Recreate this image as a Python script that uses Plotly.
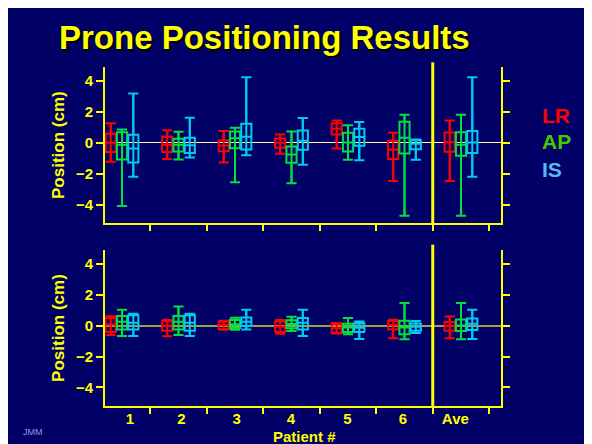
import plotly.graph_objects as go

categories = ["1", "2", "3", "4", "5", "6", "Ave"]
series = ["LR", "AP", "IS"]
y_ticks = [-4, -2, 0, 2, 4]

# Top panel
top_LR_high = [1.27, 0.82, 0.76, 0.54, 1.45, 0.65, 1.45]
top_LR_q3 = [0.58, 0.39, 0.17, 0.28, 1.27, 0.13, 0.67]
top_LR_med = [0.0, -0.13, -0.17, 0.0, 0.91, -0.45, 0.04]
top_LR_q1 = [-0.6, -0.6, -0.54, -0.32, 0.54, -1.04, -0.58]
top_LR_low = [-1.23, -1.04, -1.27, -0.71, -0.37, -2.46, -2.46]

top_AP_high = [0.86, 0.71, 0.97, 0.73, 1.14, 1.81, 1.81]
top_AP_q3 = [0.69, 0.26, 0.73, -0.24, 0.65, 1.36, 0.69]
top_AP_med = [-0.13, -0.13, 0.3, -0.76, 0.02, 0.32, -0.13]
top_AP_q1 = [-1.08, -0.56, -0.35, -1.29, -0.56, -0.69, -0.84]
top_AP_low = [-4.08, -1.08, -2.55, -2.61, -1.1, -4.72, -4.72]

top_IS_high = [3.19, 1.62, 4.23, 1.6, 1.34, 0.22, 4.23]
top_IS_q3 = [0.52, 0.32, 1.23, 0.8, 0.91, 0.17, 0.76]
top_IS_med = [-0.37, -0.15, 0.39, 0.13, 0.37, -0.06, 0.02]
top_IS_q1 = [-1.27, -0.65, -0.43, -0.45, -0.19, -0.41, -0.65]
top_IS_low = [-2.2, -0.95, -0.8, -1.42, -1.12, -1.1, -2.2]

# Bottom panel
bot_LR_high = [0.62, 0.37, 0.32, 0.37, 0.17, 0.39, 0.6]
bot_LR_q3 = [0.5, 0.3, 0.26, 0.28, 0.09, 0.3, 0.24]
bot_LR_med = [0.08, -0.02, 0.04, -0.06, -0.17, 0.04, -0.02]
bot_LR_q1 = [-0.4, -0.32, -0.22, -0.39, -0.45, -0.24, -0.32]
bot_LR_low = [-0.6, -0.69, -0.26, -0.52, -0.5, -0.82, -0.82]

bot_AP_high = [1.04, 1.25, 0.52, 0.58, 0.5, 1.47, 1.47]
bot_AP_q3 = [0.63, 0.63, 0.37, 0.35, 0.13, 0.32, 0.41]
bot_AP_med = [0.26, 0.26, 0.09, 0.11, -0.11, -0.11, 0.02]
bot_AP_q1 = [-0.24, -0.24, -0.15, -0.17, -0.41, -0.56, -0.35]
bot_AP_low = [-0.67, -0.6, -0.26, -0.35, -0.56, -0.88, -0.88]

bot_IS_high = [0.78, 0.78, 1.04, 1.04, 0.28, 0.3, 1.04]
bot_IS_q3 = [0.67, 0.67, 0.54, 0.5, 0.15, 0.15, 0.47]
bot_IS_med = [0.19, 0.19, 0.26, 0.19, -0.13, -0.06, 0.13]
bot_IS_q1 = [-0.24, -0.32, -0.02, -0.24, -0.41, -0.32, -0.28]
bot_IS_low = [-0.67, -0.67, -0.24, -0.67, -0.86, -0.47, -0.86]

NAVY = "#000066"
YEL = "#ffff00"
box_colors = {"LR": "#ff0000", "AP": "#00e040", "IS": "#00ccee"}
legend_colors = {"LR": "#ff0000", "AP": "#44cc00", "IS": "#55bbee"}
offsets = {"LR": -0.2, "AP": 0.0, "IS": 0.2}
FONT = "Arial, Liberation Sans, sans-serif"

panels = {
    "top": {
        "LR": (top_LR_low, top_LR_q1, top_LR_med, top_LR_q3, top_LR_high),
        "AP": (top_AP_low, top_AP_q1, top_AP_med, top_AP_q3, top_AP_high),
        "IS": (top_IS_low, top_IS_q1, top_IS_med, top_IS_q3, top_IS_high),
    },
    "bot": {
        "LR": (bot_LR_low, bot_LR_q1, bot_LR_med, bot_LR_q3, bot_LR_high),
        "AP": (bot_AP_low, bot_AP_q1, bot_AP_med, bot_AP_q3, bot_AP_high),
        "IS": (bot_IS_low, bot_IS_q1, bot_IS_med, bot_IS_q3, bot_IS_high),
    },
}
axes_of = {"top": ("x", "y"), "bot": ("x2", "y2")}

fig = go.Figure()
centers = list(range(1, len(categories) + 1))
for pname, pdata in panels.items():
    xa, ya = axes_of[pname]
    for s in series:
        low, q1, med, q3, high = pdata[s]
        pos = [c + offsets[s] for c in centers]
        lx, ly = [], []
        for p, lo, hi in zip(pos, low, high):
            lx += [p, p, None]
            ly += [lo, hi, None]
        fig.add_trace(go.Scatter(x=lx, y=ly, mode="lines",
                                 line=dict(color=box_colors[s], width=2),
                                 xaxis=xa, yaxis=ya, showlegend=False, hoverinfo="skip"))
        fig.add_trace(go.Box(x=pos, q1=q1, median=med, q3=q3,
                             lowerfence=low, upperfence=high,
                             width=0.18, whiskerwidth=1,
                             line=dict(color=box_colors[s], width=2),
                             fillcolor="rgba(0,0,0,0)", boxpoints=False,
                             xaxis=xa, yaxis=ya, showlegend=False, name=s))

top_dom = [0.539, 1.0]
bot_dom = [0.0, 0.460]
xrange = [0.699, 7.708]
yrange = [-5.2, 4.9]
# the original slide's category labels sit slightly off the box groups
label_shift = [0.14, 0.05, 0.03, -0.01, -0.01, -0.03, -0.1]
label_vals = [c + d for c, d in zip(centers, label_shift)]

xcommon = dict(range=xrange, showline=True, linecolor=YEL, linewidth=2,
               tickvals=label_vals, ticktext=categories, ticks="",
               showgrid=False, zeroline=False,
               minor=dict(tickvals=[c + 0.5 for c in centers], ticks="outside",
                          ticklen=6, tickwidth=2, tickcolor=YEL, showgrid=False),
               tickfont=dict(family=FONT, size=15, color=YEL, weight="bold"))
ycommon = dict(range=yrange, showline=True, linecolor=YEL, linewidth=2,
               mirror="ticks", tickvals=y_ticks, ticks="outside", ticklen=7,
               tickwidth=2, tickcolor=YEL, showgrid=False,
               tickfont=dict(family=FONT, size=15, color=YEL, weight="bold"),
               title=dict(text="Position (cm)", standoff=7,
                          font=dict(family=FONT, size=17, color=YEL, weight="bold")))

fig.update_layout(
    width=592, height=444,
    margin=dict(l=97, r=99, t=59, b=46),
    paper_bgcolor=NAVY, plot_bgcolor=NAVY,
    boxmode="overlay", showlegend=False,
    xaxis=dict(**xcommon, domain=[0, 1], anchor="y", showticklabels=False),
    yaxis=dict(**ycommon, domain=top_dom, anchor="x",
               zeroline=True, zerolinecolor="#ffffa0", zerolinewidth=1),
    xaxis2=dict(**xcommon, domain=[0, 1], anchor="y2", showticklabels=True,
                ticklabelstandoff=-2),
    yaxis2=dict(**ycommon, domain=bot_dom, anchor="x2",
                zeroline=True, zerolinecolor="#a0a040", zerolinewidth=2),
)

shapes = [
    dict(type="line", xref="x", yref="y domain", x0=6.5, x1=6.5, y0=0, y1=1.03,
         line=dict(color=YEL, width=3)),
    dict(type="line", xref="x2", yref="y2 domain", x0=6.5, x1=6.5, y0=0, y1=1.035,
         line=dict(color=YEL, width=3)),
]
fig.update_layout(shapes=shapes)

annotations = [
    dict(text="Prone Positioning Results", xref="paper", yref="paper", x=0.402, y=1.088,
         xanchor="center", yanchor="middle", showarrow=False,
         font=dict(family=FONT, size=33, color=YEL, weight="bold",
                   shadow="2px 2px 0px #000000")),
    dict(text="Patient #", xref="paper", yref="paper", x=0.505, y=-0.09,
         xanchor="center", yanchor="middle", showarrow=False,
         font=dict(family=FONT, size=15, color=YEL, weight="bold")),
    dict(text="JMM", xref="paper", yref="paper", x=-0.182, y=-0.077,
         xanchor="center", yanchor="middle", showarrow=False,
         font=dict(family=FONT, size=9, color="#9999dd")),
]
for s, yy in zip(series, [0.858, 0.779, 0.699]):
    annotations.append(dict(text=s, xref="paper", yref="paper", x=1.098, y=yy,
                            xanchor="left", yanchor="middle", showarrow=False,
                            font=dict(family=FONT, size=21, color=legend_colors[s], weight="bold")))
fig.update_layout(annotations=annotations)

fig.write_html("out.html")
